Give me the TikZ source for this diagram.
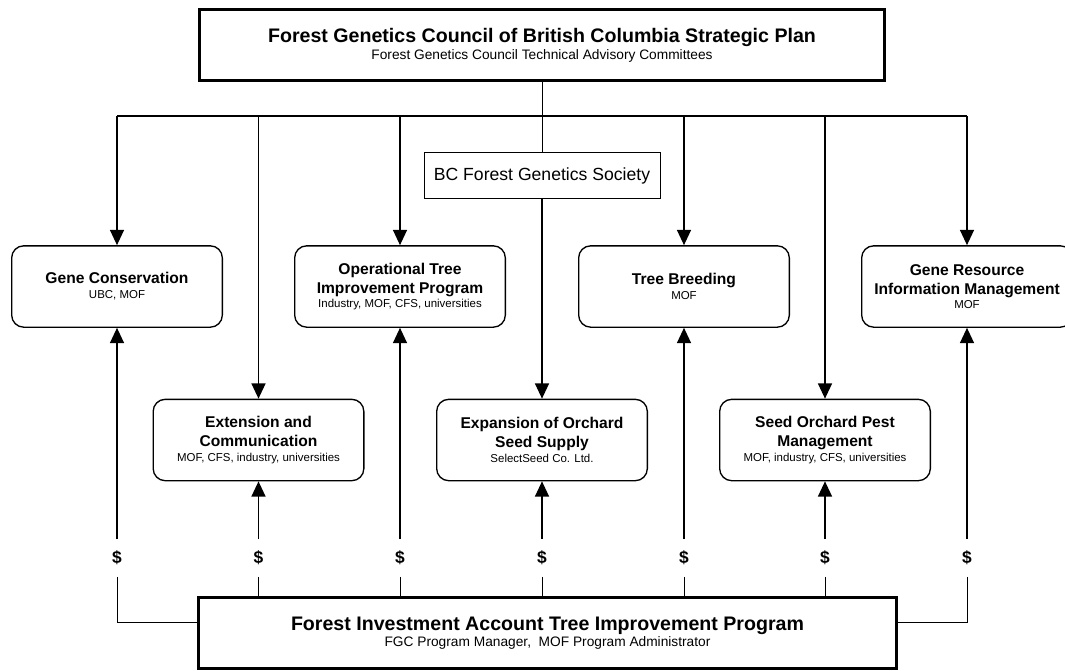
\documentclass[tikz,border=0pt]{standalone}
\usepackage{fontspec}
\setmainfont{Liberation Sans}
\usetikzlibrary{arrows.meta}

\newcommand{\party}[1]{{\fontsize{8.6}{10}\mdseries\selectfont #1}}

\begin{document}
\begin{tikzpicture}[x=0.75pt, y=-0.75pt,
    plan/.style={draw, line width=2.4pt, minimum width=514pt, minimum height=53pt, align=center, inner sep=0pt, font=\fontsize{14.7}{17.6}\selectfont},
    task/.style={draw, line width=1pt, rounded corners=9pt, minimum width=158pt, minimum height=61pt, align=center, inner sep=0pt, font=\fontsize{11.7}{14.2}\bfseries\selectfont},
    society/.style={draw, line width=0.7pt, minimum width=177pt, minimum height=35pt, inner sep=0pt, font=\fontsize{13.2}{15}\selectfont},
    fund/.style={minimum height=28pt, inner sep=0pt, font=\fontsize{13}{15}\bfseries\selectfont},
    flow/.style={line width=1.2pt, -{Triangle[length=11.5pt, width=10.5pt]}},
    feed/.style={line width=0.75pt}]

    \useasboundingbox (0,0) rectangle (1065,671);

    % plan and funding
    \node[plan] (fgc) at (542,45)
        {\textbf{Forest Genetics Council of British Columbia Strategic Plan}\\[-4.8pt]
         {\fontsize{10.3}{12}\selectfont Forest Genetics Council Technical Advisory Committees}};
    \node[plan, minimum width=524pt] (fia) at (547.5,633)
        {\textbf{Forest Investment Account Tree Improvement Program}\\[-5.6pt]
         {\fontsize{10.3}{12}\selectfont FGC Program Manager,\ \ MOF Program Administrator}};
    \node[society] (bcfgs) at (542,175.5) {BC Forest Genetics Society};

    % program elements
    \node[task] (gc)   at (117,286.5) {Gene Conservation\\[-3pt]\party{UBC, MOF}};
    \node[task] (otip) at (400,286.5) {Operational Tree\\Improvement Program\\[-3.5pt]\party{Industry, MOF, CFS, universities}};
    \node[task] (tb)   at (684,286.5) {Tree Breeding\\[-3pt]\party{MOF}};
    \node[task] (grim) at (967,286.5) {Gene Resource\\Information Management\\[-3.5pt]\party{MOF}};
    \node[task] (ext)  at (258.5,440) {Extension and\\Communication\\[-3.5pt]\party{MOF, CFS, industry, universities}};
    \node[task] (exp)  at (542,440)   {Expansion of Orchard\\Seed Supply\\[-3.5pt]\party{SelectSeed Co. Ltd.}};
    \node[task] (sopm) at (825,440)   {Seed Orchard Pest\\Management\\[-3.5pt]\party{MOF, industry, CFS, universities}};

    % distribution bar
    \coordinate (bar) at (542,116);
    \draw[feed] (fgc) -- (bar);
    \draw[line width=1.4pt] (bar -| gc) -- (bar -| grim);
    \draw[feed] (bar) -- (bcfgs);
    \draw[flow] (bcfgs) -- (exp);
    \foreach \n in {gc,ext,otip,tb,sopm,grim}
        \draw[flow] (bar -| \n) -- (\n);

    % funding lines
    \foreach \n in {gc,ext,otip,exp,tb,sopm,grim} {
        \node[fund] (d\n) at (\n |- 0,558) {\$};
        \draw[flow] (d\n.north) -- (\n);
    }
    \foreach \n in {ext,otip,exp,tb,sopm}
        \draw[feed] (d\n.south) -- (d\n.south |- fia.north);
    \draw[feed] (dgc.south) |- (fia.west |- 0,622);
    \draw[feed] (dgrim.south) |- (fia.east |- 0,622);
\end{tikzpicture}
\end{document}
